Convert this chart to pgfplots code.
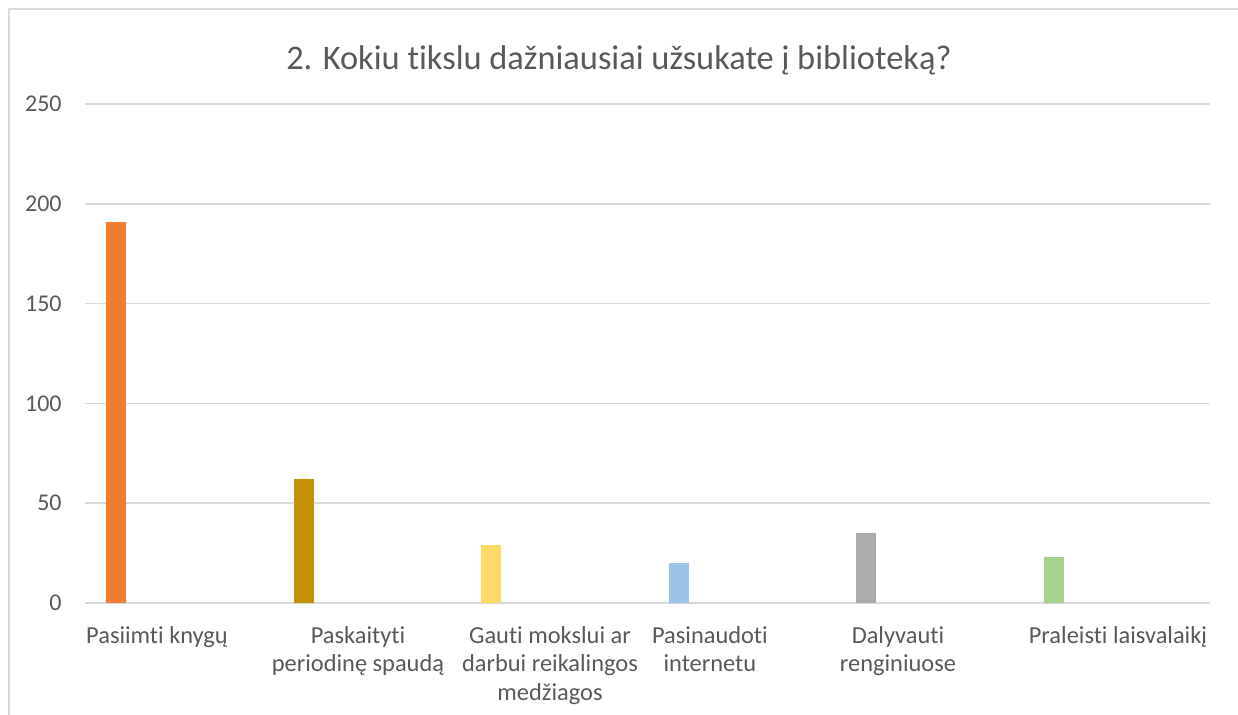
\documentclass[border=0pt]{standalone}
\usepackage{fontspec}
\setmainfont{Carlito}[Ligatures={NoCommon}, RawFeature={-liga;-clig;-calt;-dlig}]
\usepackage{pgfplots}
\pgfplotsset{compat=1.18}
\definecolor{txt}{HTML}{595959}
\definecolor{gridc}{HTML}{D9D9D9}
\definecolor{c1}{HTML}{ED7D31}
\definecolor{c2}{HTML}{C49200}
\definecolor{c3}{HTML}{FFD966}
\definecolor{c4}{HTML}{9DC3E6}
\definecolor{c5}{HTML}{AEABAB}
\definecolor{c6}{HTML}{A9D18E}
\begin{document}
\begin{tikzpicture}
\useasboundingbox (0,0) rectangle (619pt,357.5pt);
\draw[gridc, line width=0.6pt] (4.5pt,0) -- (4.5pt,353pt) -- (619pt,353pt);
\node[anchor=base, text=txt, font=\fontsize{17.2}{20}\selectfont] at (309.5pt,322.5pt) {2. Kokiu tikslu dažniausiai užsukate į biblioteką?};
\begin{axis}[
  at={(42.5pt,56pt)}, anchor=south west,
  scale only axis, width=562.5pt, height=249.5pt,
  xmin=-0.5, xmax=5.5, ymin=0, ymax=250,
  ytick={0,50,100,150,200,250},
  yticklabels={0,50,100,150,200,250},
  xtick={-0.116,0.956,1.98,2.833,3.836,5.009},
  xticklabels={{Pasiimti knygų},{Paskaityti\\periodinę spaudą},{Gauti mokslui ar\\darbui reikalingos\\medžiagos},{Pasinaudoti\\internetu},{Dalyvauti\\renginiuose},{Praleisti laisvalaikį}},
  axis line style={draw=none},
  major tick length=0pt,
  ymajorgrids, grid style={gridc, line width=0.75pt},
  tick label style={text=txt},
  xticklabel style={font=\fontsize{12.2}{14.25}\selectfont, align=center, anchor=north, inner sep=0pt, yshift=-11.5pt},
  yticklabel style={font=\fontsize{12}{14}\selectfont, anchor=east, inner sep=0pt, xshift=-11.5pt},
  /pgf/number format/assume math mode=true,
]
\addplot[ybar, bar width=10pt, bar shift=-31.375pt, fill=c1, draw=none] coordinates {(0,191)};
\addplot[ybar, bar width=10pt, bar shift=-31.375pt, fill=c2, draw=none] coordinates {(1,62)};
\addplot[ybar, bar width=10pt, bar shift=-31.375pt, fill=c3, draw=none] coordinates {(2,29)};
\addplot[ybar, bar width=10pt, bar shift=-31.375pt, fill=c4, draw=none] coordinates {(3,20)};
\addplot[ybar, bar width=10pt, bar shift=-31.375pt, fill=c5, draw=none] coordinates {(4,35)};
\addplot[ybar, bar width=10pt, bar shift=-31.375pt, fill=c6, draw=none] coordinates {(5,23)};
\end{axis}
\end{tikzpicture}
\end{document}
